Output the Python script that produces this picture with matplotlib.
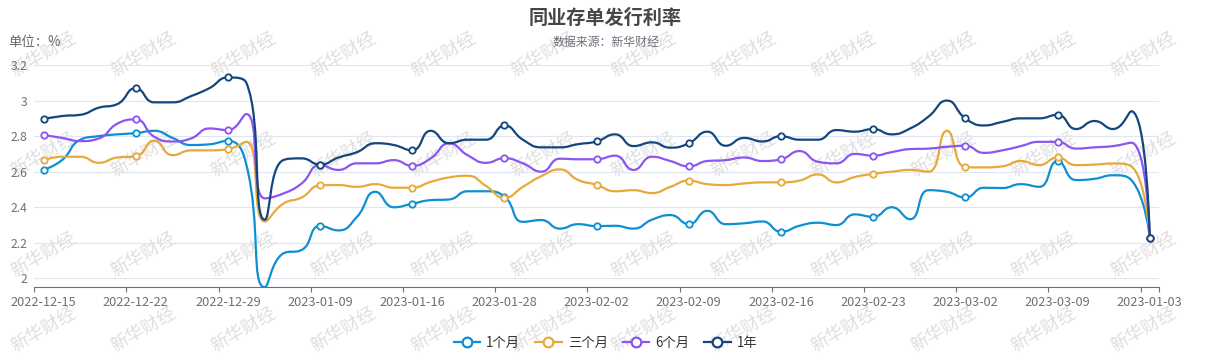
import numpy as np
import matplotlib
matplotlib.use("Agg")
import matplotlib.pyplot as plt
from matplotlib.path import Path
from matplotlib.patches import PathPatch
from matplotlib.lines import Line2D

plt.rcParams['font.family'] = ['Noto Sans CJK SC', 'DejaVu Sans']

# ---- data ----
tick_labels = ["2022-12-15", "2022-12-22", "2022-12-29", "2023-01-09", "2023-01-16",
               "2023-01-28", "2023-02-02", "2023-02-09", "2023-02-16", "2023-02-23",
               "2023-03-02", "2023-03-09", "2023-01-03"]

one_month = [2.61, 2.665, 2.78, 2.80, 2.81, 2.817, 2.83, 2.79, 2.75, 2.754,
             2.774, 2.64, 1.95, 2.14, 2.16, 2.296, 2.27, 2.346, 2.487, 2.40,
             2.42, 2.44, 2.444, 2.49, 2.49, 2.46, 2.318, 2.328, 2.28, 2.305,
             2.294, 2.296, 2.28, 2.33, 2.356, 2.305, 2.38, 2.305, 2.31, 2.32,
             2.262, 2.296, 2.313, 2.30, 2.36, 2.346, 2.40, 2.333, 2.496, 2.487,
             2.455, 2.51, 2.508, 2.53, 2.515, 2.66, 2.553, 2.56, 2.58, 2.553, 2.23]

three_month = [2.665, 2.684, 2.684, 2.65, 2.68, 2.686, 2.774, 2.693, 2.72, 2.72,
               2.727, 2.768, 2.32, 2.42, 2.455, 2.523, 2.525, 2.515, 2.53, 2.51,
               2.51, 2.543, 2.568, 2.577, 2.52, 2.453, 2.515, 2.575, 2.613, 2.553,
               2.526, 2.49, 2.496, 2.48, 2.515, 2.55, 2.53, 2.525, 2.534, 2.54,
               2.54, 2.55, 2.585, 2.54, 2.57, 2.588, 2.60, 2.61, 2.60, 2.83,
               2.626, 2.624, 2.63, 2.66, 2.637, 2.68, 2.637, 2.64, 2.646, 2.63, 2.23]

six_month = [2.806, 2.79, 2.772, 2.787, 2.87, 2.894, 2.797, 2.77, 2.787, 2.843,
             2.834, 2.924, 2.45, 2.477, 2.534, 2.637, 2.61, 2.647, 2.647, 2.665,
             2.633, 2.675, 2.76, 2.693, 2.65, 2.676, 2.647, 2.60, 2.673, 2.67,
             2.67, 2.69, 2.61, 2.684, 2.66, 2.63, 2.66, 2.665, 2.68, 2.66,
             2.67, 2.716, 2.656, 2.647, 2.70, 2.69, 2.71, 2.727, 2.73, 2.74,
             2.746, 2.706, 2.72, 2.744, 2.768, 2.768, 2.73, 2.737, 2.744, 2.763, 2.23]

one_year = [2.896, 2.913, 2.92, 2.96, 2.98, 3.07, 2.99, 2.99, 3.025, 3.07,
            3.13, 3.10, 2.33, 2.665, 2.675, 2.64, 2.68, 2.71, 2.76, 2.75,
            2.72, 2.83, 2.76, 2.78, 2.78, 2.86, 2.78, 2.737, 2.737, 2.755,
            2.77, 2.81, 2.744, 2.765, 2.735, 2.76, 2.825, 2.746, 2.79, 2.77,
            2.80, 2.78, 2.78, 2.834, 2.825, 2.84, 2.81, 2.843, 2.91, 3.00,
            2.90, 2.86, 2.88, 2.90, 2.90, 2.92, 2.84, 2.885, 2.84, 2.94, 2.23]

series_names = ["1个月", "三个月", "6个月", "1年"]
series_colors = ["#0d8fd2", "#e9a93a", "#8b55f2", "#12467d"]
series_data = [one_month, three_month, six_month, one_year]

W, H = 1211, 359
fig = plt.figure(figsize=(W / 100, H / 100), dpi=100)
ax = fig.add_axes([34.3 / W, 1 - 287.3 / H, (1159 - 34.3) / W, (287.3 - 65) / H])
ax.patch.set_alpha(0)

n = len(one_month)
ax.set_xlim(-0.5, n - 0.5)
ax.set_ylim(min(min(s) for s in series_data), 3.2)


def echarts_smooth(xs, ys, smooth=0.5):
    # bezier smoothing the way echarts does it, in pixel space
    p = ax.transData.transform(np.column_stack([xs, ys]))
    m = len(p)
    cin = [None] * m
    cout = [None] * m
    for i in range(m):
        x, y = p[i]
        if i == 0 or i == m - 1:
            cin[i] = (x, y)
            cout[i] = (x, y)
            continue
        px, py = p[i - 1]
        nx, ny = p[i + 1]
        vx, vy = nx - px, ny - py
        l0 = np.hypot(x - px, y - py)
        l1 = np.hypot(nx - x, ny - y)
        r = l1 / (l0 + l1)
        ncx = x + vx * smooth * r
        ncy = y + vy * smooth * r
        ncx = max(min(ncx, max(nx, x)), min(nx, x))
        ncy = max(min(ncy, max(ny, y)), min(ny, y))
        vx, vy = ncx - x, ncy - y
        cx = x - vx * l0 / l1
        cy = y - vy * l0 / l1
        cx = max(min(cx, max(px, x)), min(px, x))
        cy = max(min(cy, max(py, y)), min(py, y))
        vx, vy = x - cx, y - cy
        ncx = x + vx * l1 / l0
        ncy = y + vy * l1 / l0
        cin[i] = (cx, cy)
        cout[i] = (ncx, ncy)
    verts = [tuple(p[0])]
    codes = [Path.MOVETO]
    for i in range(1, m):
        verts += [cout[i - 1], cin[i], tuple(p[i])]
        codes += [Path.CURVE4] * 3
    verts = ax.transData.inverted().transform(np.array(verts))
    return Path(verts, codes)


xs = np.arange(n)
for k, (name, c, ys) in enumerate(zip(series_names, series_colors, series_data)):
    path = echarts_smooth(xs, ys)
    ax.add_patch(PathPatch(path, facecolor='none', edgecolor=c, lw=1.6,
                           capstyle='round', joinstyle='round', zorder=3 + k * 2))
    ax.plot(xs[::5], np.array(ys)[::5], 'o', ms=4.6, mfc='white', mec=c, mew=1.3,
            zorder=4 + k * 2, clip_on=False)

# axes styling
ax.set_yticks([2.0, 2.2, 2.4, 2.6, 2.8, 3.0, 3.2])
ax.set_yticklabels(["2", "2.2", "2.4", "2.6", "2.8", "3", "3.2"])
ax.grid(axis='y', color='#e0e6f1', lw=0.8, zorder=0)
ax.tick_params(axis='y', length=0, pad=5, labelsize=8.8, labelcolor='#6e7079')
for s in ['left', 'right', 'top']:
    ax.spines[s].set_visible(False)
ax.spines['bottom'].set_color('#6e7079')
ax.spines['bottom'].set_linewidth(0.8)

tick_pos = list(np.arange(-0.5, n - 0.5, 5)) + [n - 0.5]
ax.set_xticks(tick_pos)
ax.set_xticklabels([''] * len(tick_pos))
ax.tick_params(axis='x', which='major', length=3.6, width=0.8, color='#6e7079')
ax.set_xticks(np.arange(0, n, 5), tick_labels, minor=True)
ax.tick_params(axis='x', which='minor', length=0, pad=6, labelsize=9.2,
               labelcolor='#6e7079')

# titles
fig.text(0.5, 1 - 18 / H, "同业存单发行利率", ha='center', va='center',
         fontsize=13.8, fontweight='bold', color='#464646')
fig.text(0.5, 1 - 42 / H, "数据来源：新华财经", ha='center', va='center',
         fontsize=8.6, color='#6e7079')
fig.text(8 / W, 1 - 42 / H, "单位：%", ha='left', va='center',
         fontsize=9.6, color='#666666')

# legend
handles = [Line2D([], [], color=c, lw=1.6, marker='o', ms=7, mfc='white', mew=1.6)
           for c in series_colors]
leg = fig.legend(handles, series_names, loc='center', bbox_to_anchor=(0.5, 1 - 343 / H),
                 ncol=4, frameon=False, handlelength=2.0, handletextpad=0.45,
                 columnspacing=1.1, fontsize=9.6)
for t in leg.get_texts():
    t.set_color('#333333')

# watermark
for row_y in [55, 155, 255, 330]:
    for col_x in range(43, W - 40, 100):
        fig.text(col_x / W, 1 - row_y / H, "新华财经", rotation=30, ha='center',
                 va='center', rotation_mode='anchor', fontsize=13, color='#dedede',
                 zorder=-1)

fig.savefig("out.png", dpi=100)
